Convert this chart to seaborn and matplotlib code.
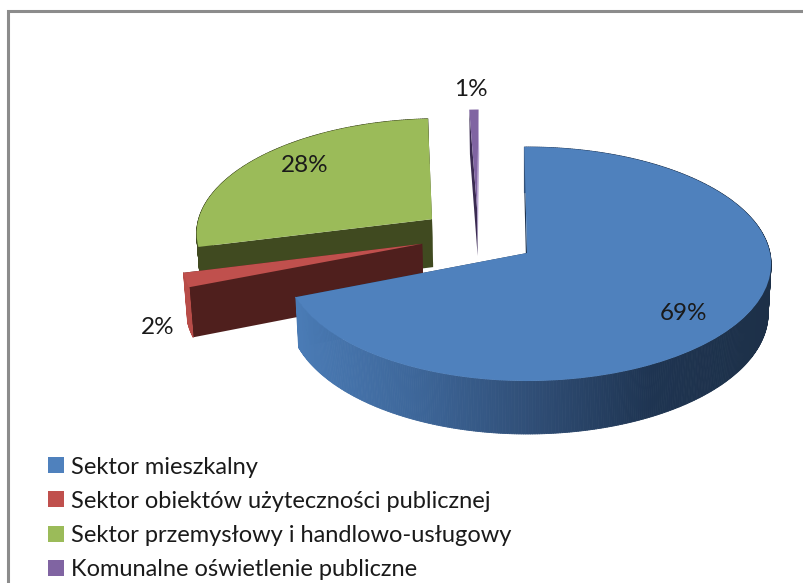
import numpy as np
import matplotlib
matplotlib.use('Agg')
import matplotlib.pyplot as plt
import seaborn as sns
from matplotlib.collections import PolyCollection
from matplotlib.transforms import Transform

# Data
sectors = ['Sektor mieszkalny', 'Sektor obiektów użyteczności publicznej',
           'Sektor przemysłowy i handlowo-usługowy', 'Komunalne oświetlenie publiczne']
shares = [69, 2, 28, 0.7]

# Style
top_colors = ['#4f81bd', '#c0504d', '#9bbb59', '#8064a2']
wall_colors = ['#1e3450', '#4f1f1d', '#404a20', '#3b2c52']
low_wall_colors = ['#1e3450', '#4f1f1d', '#404a20', '#b9a6d3']
outer_colors = ['gradient', '#b84c48', '#404a20', None]  # purple's outer wall faces away
centers = [(0, 0), (-0.44, 0.08), (-0.407, 0.30), (-0.216, 0.40)]
label_xy = [(684, 313), (158, 328), (305, 165), (471, 90)]
draw_order = [2, 3, 1, 0]

sns.set_theme(style='white')
plt.rcParams['font.family'] = ['Lato', 'DejaVu Sans']


def project(u, v, z=0.0):
    # disc coordinates -> pixels, with the perspective of the 3D pie
    w = 1 + 0.094 * v
    rx = np.where(np.asarray(u) < 0, 240, 243)
    x = 527 + rx * (1 - 0.012 * z) * u / w
    y = ((-92.2 + z) * v + 253 + 49 * z) / w
    return x, y


class DiscProjection(Transform):
    input_dims = 2
    output_dims = 2

    def transform_non_affine(self, values):
        x, y = project(values[:, 0], values[:, 1])
        return np.column_stack([x, y])


fig = plt.figure(figsize=(8.04, 5.83), dpi=100)
ax = fig.add_axes([0, 0, 1, 1])
wedges, _, autotexts = ax.pie(shares, colors=top_colors, startangle=90.7, counterclock=False,
                              autopct='%.0f%%', textprops={'fontsize': 17.5, 'color': '#1a1a1a'},
                              wedgeprops={'linewidth': 0})
ax.set_aspect('auto')
ax.set_xlim(0, 804)
ax.set_ylim(583, 0)
ax.axis('off')

legend = ax.legend(wedges, sectors, loc='upper left', bbox_to_anchor=(48, 456.5), bbox_transform=ax.transData,
                   frameon=False, fontsize=17, borderpad=0, borderaxespad=0, handlelength=0.66, handleheight=0.66,
                   handletextpad=0.33, labelspacing=0.56)
for text in legend.get_texts():
    text.set_color('#1a1a1a')

disc = DiscProjection()
gradient = sns.blend_palette(['#4a7bb5', '#3d6699', '#2f4d75', '#1e3451', '#1d3048'], n_colors=256)

for rank, i in enumerate(draw_order):
    wedge = wedges[i]
    base = 10 * (rank + 1)
    wedge.set_center(centers[i])
    wedge.set_transform(disc + ax.transData)
    wedge.set_zorder(base + 3)
    cu, cv = centers[i]

    # radial walls
    for theta, color in [(wedge.theta1, low_wall_colors[i]), (wedge.theta2, wall_colors[i])]:
        ou = cu + np.cos(np.radians(theta))
        ov = cv + np.sin(np.radians(theta))
        pts = [project(cu, cv, 0), project(ou, ov, 0), project(ou, ov, 1), project(cu, cv, 1)]
        ax.fill(*zip(*pts), color=color, lw=0, zorder=base + 1)

    if outer_colors[i] is None:
        continue

    # outer wall, split into strips so the shading can follow x
    n = max(int(wedge.theta2 - wedge.theta1) * 2, 4)
    thetas = np.radians(np.linspace(wedge.theta1, wedge.theta2, n))
    us = cu + np.cos(thetas)
    vs = cv + np.sin(thetas)
    strips = []
    colors = []
    for k in range(n - 1):
        strip = [project(us[k], vs[k], 0), project(us[k + 1], vs[k + 1], 0),
                 project(us[k + 1], vs[k + 1], 1), project(us[k], vs[k], 1)]
        strips.append(strip)
        if outer_colors[i] == 'gradient':
            pos = (strip[0][0] - 298) / (770 - 298)
            colors.append(gradient[int(np.clip(pos, 0, 1) * 255)])
        else:
            colors.append(outer_colors[i])
    ax.add_collection(PolyCollection(strips, facecolors=colors, edgecolors='face', linewidths=0.6,
                                     zorder=base + 2))

for text, xy in zip(autotexts, label_xy):
    text.set_position(xy)
    text.set_zorder(100)

# chart border, cut off by the screenshot on the right and at the bottom
ax.plot([8, 8, 804], [583, 11, 11], color='#8c8c8c', lw=2.2, solid_joinstyle='miter', zorder=90)

fig.savefig('out.png', dpi=100)
